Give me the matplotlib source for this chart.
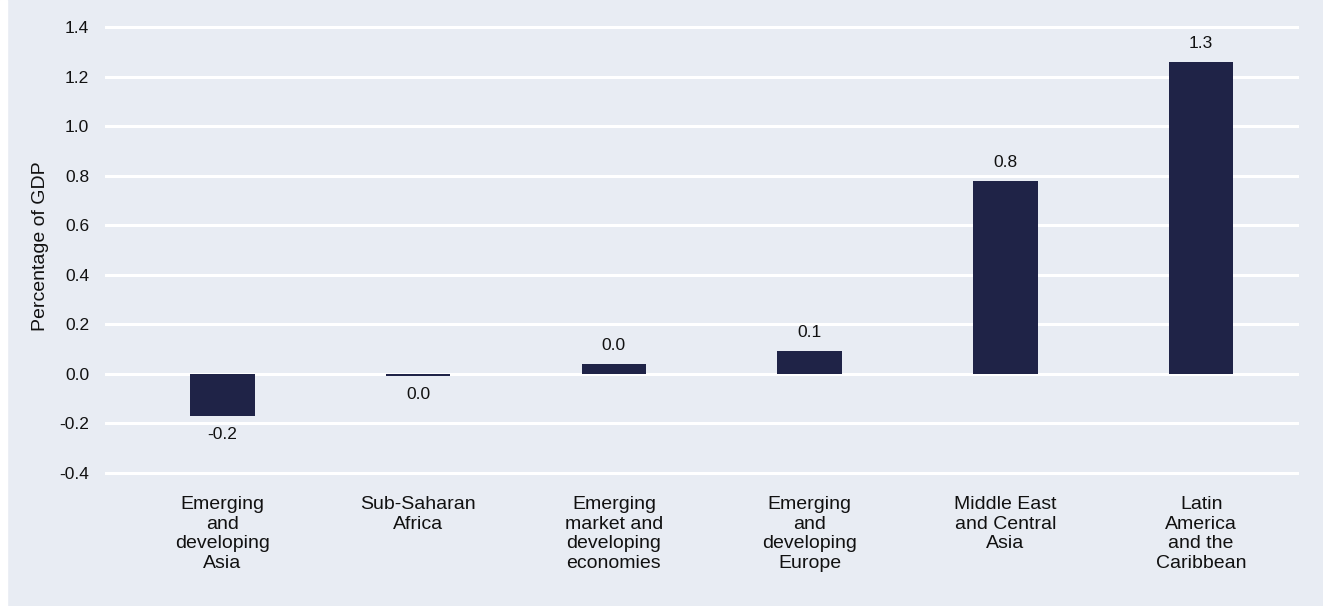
import matplotlib
matplotlib.use('Agg')
import matplotlib.pyplot as plt

# data
regions = ["Emerging\nand\ndeveloping\nAsia",
           "Sub-Saharan\nAfrica",
           "Emerging\nmarket and\ndeveloping\neconomies",
           "Emerging\nand\ndeveloping\nEurope",
           "Middle East\nand Central\nAsia",
           "Latin\nAmerica\nand the\nCaribbean"]
values = [-0.17, -0.01, 0.04, 0.09, 0.78, 1.26]
value_labels = ["-0.2", "0.0", "0.0", "0.1", "0.8", "1.3"]
yticks = [-0.4, -0.2, 0.0, 0.2, 0.4, 0.6, 0.8, 1.0, 1.2, 1.4]

bg = '#E8ECF3'
navy = '#1F2347'
txt = '#111111'

plt.rcParams['font.family'] = ['Liberation Sans', 'DejaVu Sans']

W, H = 1323, 606
fig = plt.figure(figsize=(W/100, H/100), dpi=100, facecolor=bg)
# thin white strip on the left edge
fig.patches.append(plt.Rectangle((0, 0), 7/W, 1, transform=fig.transFigure,
                                 color='white', zorder=-1))
# axes placed so that -0.4 sits at y=472.7 and 1.4 at y=27 (pixels)
ax = fig.add_axes([105/W, 1-475.2/H, 1194/W, 450.5/H])
ax.set_facecolor(bg)

x = range(len(regions))
ax.bar(x, values, width=0.33, color=navy, zorder=3)

for i, v in enumerate(values):
    if v >= 0:
        ax.text(i, v + 0.045, value_labels[i], ha='center', va='bottom', fontsize=12.5, color=txt)
    else:
        ax.text(i, v - 0.045, value_labels[i], ha='center', va='top', fontsize=12.5, color=txt)

ax.set_ylim(-0.41, 1.41)
ax.set_xlim(-0.6, 5.5)
ax.set_yticks(yticks)
ax.set_yticklabels(["%.1f" % t for t in yticks], fontsize=12.5, color=txt)
ax.yaxis.grid(True, color='white', linewidth=2.2, zorder=0)
ax.tick_params(axis='y', length=0, pad=11.5)
ax.tick_params(axis='x', length=0, pad=15)
ax.set_xticks(list(x))
ax.set_xticklabels(regions, fontsize=14, linespacing=1.2, color=txt)
for s in ax.spines.values():
    s.set_visible(False)

ax.set_ylabel("Percentage of GDP", fontsize=14, color=txt)
ax.yaxis.set_label_coords(-0.047, 0.509)

fig.savefig('out.png', dpi=100, facecolor=bg)
